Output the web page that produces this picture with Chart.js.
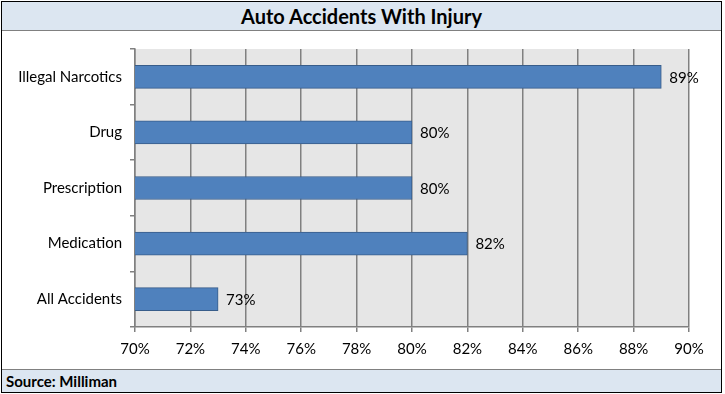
<!DOCTYPE html>
<html>
<head>
<meta charset="utf-8">
<script src="https://cdn.jsdelivr.net/npm/chart.js@4/dist/chart.umd.min.js"></script>
<style>
  body { margin: 0; background: #fff; font-family: Lato, "Open Sans", sans-serif; }
  #frame {
    position: absolute; left: 1px; top: 1px; width: 719px; height: 390px;
    border: 1px solid #000; background: #fff;
  }
  #title {
    height: 28px; line-height: 28px; text-align: center;
    background: #dce6f1; border-bottom: 1px solid #808080;
    font-weight: bold; font-size: 20px; color: #000;
  }
  #plot { position: relative; width: 719px; height: 338px; }
  #source {
    position: absolute; left: 0; bottom: 0; width: 719px; height: 23px; line-height: 23px;
    background: #dce6f1; border-top: 1px solid #808080;
    font-weight: bold; font-size: 15px; padding-left: 4px; box-sizing: border-box;
  }
</style>
</head>
<body>
<div id="frame">
  <div id="title">Auto Accidents With Injury</div>
  <div id="plot"><canvas id="chart" width="719" height="338"></canvas></div>
  <div id="source">Source: Milliman</div>
</div>
<script>
// Chart data
const categories = ["Illegal Narcotics", "Drug", "Prescription", "Medication", "All Accidents"];
const injuryRates = [89, 80, 80, 82, 73];
const xTicks = [70, 72, 74, 76, 78, 80, 82, 84, 86, 88, 90];

// gray plot background
const plotBackground = {
  id: "plotBackground",
  beforeDraw(chart) {
    const { ctx, chartArea } = chart;
    ctx.save();
    ctx.fillStyle = "#e6e6e6";
    ctx.fillRect(chartArea.left, chartArea.top, chartArea.right - chartArea.left, chartArea.bottom - chartArea.top);
    ctx.restore();
  },
};

// value labels to the right of bars
const valueLabels = {
  id: "valueLabels",
  afterDatasetsDraw(chart) {
    const ctx = chart.ctx;
    const meta = chart.getDatasetMeta(0);
    ctx.save();
    ctx.font = "15px Lato, sans-serif";
    ctx.fillStyle = "#000";
    ctx.textAlign = "left";
    ctx.textBaseline = "middle";
    meta.data.forEach((bar, i) => {
      ctx.fillText(injuryRates[i] + "%", bar.x + 8, bar.y + 1);
    });
    ctx.restore();
  },
};

const ctx = document.getElementById("chart").getContext("2d");
new Chart(ctx, {
  type: "bar",
  data: {
    labels: categories,
    datasets: [
      {
        data: injuryRates,
        backgroundColor: "#4f81bd",
        borderColor: "#385d8a",
        borderWidth: 1,
        borderSkipped: false,
        barThickness: 23,
      },
    ],
  },
  options: {
    indexAxis: "y",
    responsive: false,
    animation: false,
    layout: { padding: { left: 0, right: 32, top: 18, bottom: 0 } },
    plugins: {
      legend: { display: false },
      tooltip: { enabled: false },
    },
    scales: {
      x: {
        min: 70,
        max: 90,
        afterBuildTicks: (axis) => {
          axis.ticks = xTicks.map((v) => ({ value: v }));
        },
        afterFit: (axis) => {
          axis.height = 42;
        },
        grid: { color: "#808080", lineWidth: 1.5, tickLength: 5 },
        border: { color: "#808080", width: 1.5 },
        ticks: {
          color: "#000",
          font: { family: "Lato", size: 15 },
          padding: 8,
          callback: (v) => v + "%",
        },
      },
      y: {
        afterFit: (axis) => {
          axis.width = 133;
        },
        grid: { drawOnChartArea: false, color: "#808080", lineWidth: 1.5, tickLength: 5, offset: true },
        border: { color: "#808080", width: 1.5 },
        ticks: {
          color: "#000",
          font: { family: "Lato", size: 15 },
          padding: 8,
        },
      },
    },
  },
  plugins: [plotBackground, valueLabels],
});
</script>
</body>
</html>
